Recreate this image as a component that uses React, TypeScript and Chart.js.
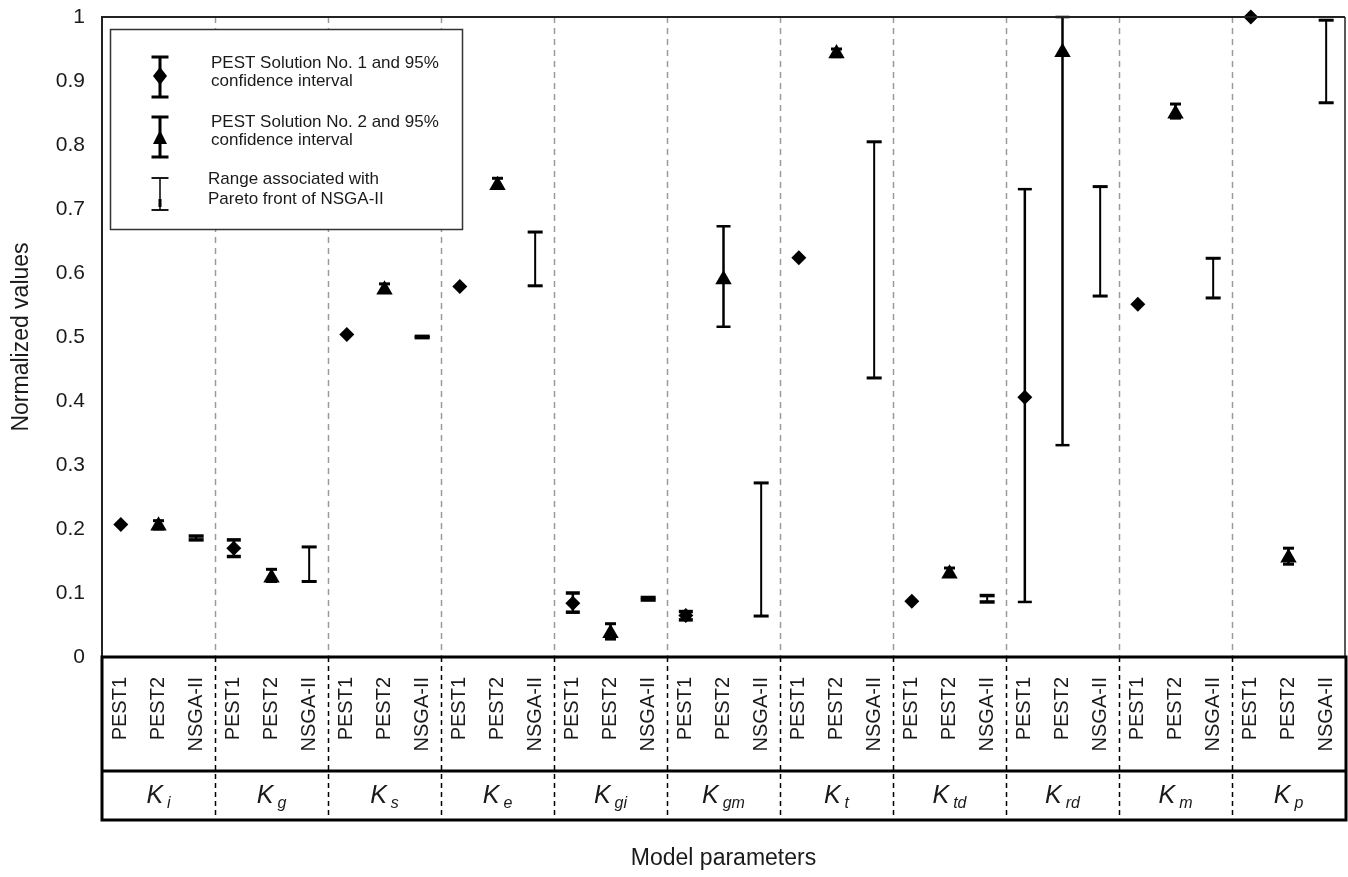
import React, { useEffect, useRef } from 'react';
import { Chart, registerables } from 'chart.js';

Chart.register(...registerables);

// ---------- data ----------
const groupNames = ['i', 'g', 's', 'e', 'gi', 'gm', 't', 'td', 'rd', 'm', 'p'];
const methodLabels = ['PEST1', 'PEST2', 'NSGA-II'];
const yTickLabels = ['0', '0.1', '0.2', '0.3', '0.4', '0.5', '0.6', '0.7', '0.8', '0.9', '1'];

const pest1Values = [0.207, 0.170, 0.504, 0.579, 0.084, 0.065, 0.624, 0.087, 0.406, 0.551, 1.0];
const pest1Low = [null, 0.157, null, null, 0.070, 0.058, null, null, 0.086, null, null];
const pest1High = [null, 0.183, null, null, 0.100, 0.071, null, null, 0.731, null, null];

const pest2Values = [0.205, 0.124, 0.574, 0.737, 0.037, 0.590, 0.943, 0.130, 0.945, 0.849, 0.155];
const pest2Low = [0.200, 0.118, 0.570, 0.733, 0.028, 0.516, 0.938, 0.126, 0.331, 0.842, 0.145];
const pest2High = [0.213, 0.137, 0.583, 0.748, 0.052, 0.673, 0.950, 0.139, 1.0, 0.864, 0.170];

const nsgaLow = [0.183, 0.118, 0.499, 0.580, 0.089, 0.064, 0.436, 0.086, 0.564, 0.561, 0.866];
const nsgaHigh = [0.189, 0.172, 0.501, 0.664, 0.093, 0.272, 0.805, 0.096, 0.735, 0.623, 0.995];

const legendTexts = [
  ['PEST Solution No. 1 and 95%', 'confidence interval'],
  ['PEST Solution No. 2 and 95%', 'confidence interval'],
  ['Range associated with', 'Pareto front of NSGA-II'],
];

// ---------- helpers ----------
const FONT = "'Liberation Sans', Arial, sans-serif";
const TEXT = '#1a1a1a';
const nCat = groupNames.length * methodLabels.length;
const xLabels = groupNames.flatMap(() => methodLabels);

const spread = (vals: (number | null)[], slot: number) => {
  const arr: (number | null)[] = new Array(nCat).fill(null);
  vals.forEach((v, g) => { arr[g * 3 + slot] = v; });
  return arr;
};

const errorBarPlugin = {
  id: 'errorBars',
  beforeDatasetsDraw(chart: any) {
    const { ctx, chartArea } = chart;
    const xs = chart.scales.x;
    const ys = chart.scales.y;
    ctx.save();
    // gray dashed group dividers inside plot area
    ctx.strokeStyle = '#9a9a9a';
    ctx.lineWidth = 1.5;
    ctx.setLineDash([6, 5]);
    for (let g = 1; g < groupNames.length; g++) {
      const x = Math.round((xs.getPixelForValue(g * 3 - 1) + xs.getPixelForValue(g * 3)) / 2) + 0.5;
      ctx.beginPath();
      ctx.moveTo(x, chartArea.top);
      ctx.lineTo(x, chartArea.bottom);
      ctx.stroke();
    }
    ctx.setLineDash([]);
    // error bars / ranges
    chart.data.datasets.forEach((ds: any) => {
      if (!ds.errLow) return;
      ds.errLow.forEach((lo: number | null, i: number) => {
        const hi = ds.errHigh[i];
        if (lo == null || hi == null) return;
        const x = xs.getPixelForValue(i);
        const yLo = ys.getPixelForValue(lo);
        const yHi = ys.getPixelForValue(hi);
        const big = Math.abs(yLo - yHi) > 30;
        ctx.fillStyle = '#000';
        ctx.strokeStyle = '#000';
        ctx.lineWidth = ds.errLineWidth;
        ctx.beginPath();
        ctx.moveTo(x, yLo);
        ctx.lineTo(x, yHi);
        ctx.stroke();
        const cw = big ? ds.errCapWidthBig : ds.errCapWidth;
        const ct = big ? ds.errCapThickBig : ds.errCapThick;
        ctx.fillRect(x - cw / 2, yLo - ct / 2, cw, ct);
        ctx.fillRect(x - cw / 2, yHi - ct / 2, cw, ct);
      });
    });
    ctx.restore();
  },
  afterDraw(chart: any) {
    const { ctx, chartArea } = chart;
    const xs = chart.scales.x;
    const { left, right, top, bottom } = chartArea;
    const tableBottom = 820;
    const rowSep = 771;
    ctx.save();
    // plot frame
    ctx.strokeStyle = '#222';
    ctx.lineWidth = 2;
    ctx.beginPath();
    ctx.moveTo(left, bottom);
    ctx.lineTo(left, top);
    ctx.lineTo(right, top);
    ctx.stroke();
    ctx.lineWidth = 1.5;
    ctx.beginPath();
    ctx.moveTo(right, top);
    ctx.lineTo(right, bottom);
    ctx.stroke();

    // table dividers (black dashed)
    ctx.strokeStyle = '#000';
    ctx.lineWidth = 1.5;
    ctx.setLineDash([5, 4]);
    for (let g = 1; g < groupNames.length; g++) {
      const x = Math.round((xs.getPixelForValue(g * 3 - 1) + xs.getPixelForValue(g * 3)) / 2) + 0.5;
      ctx.beginPath();
      ctx.moveTo(x, bottom);
      ctx.lineTo(x, tableBottom);
      ctx.stroke();
    }
    ctx.setLineDash([]);
    // table frame
    ctx.lineWidth = 3;
    ctx.strokeStyle = '#000';
    ctx.strokeRect(left, bottom, right - left + 1, tableBottom - bottom);
    ctx.beginPath();
    ctx.moveTo(left, rowSep);
    ctx.lineTo(right + 1, rowSep);
    ctx.stroke();

    // group labels K_sub
    ctx.fillStyle = TEXT;
    ctx.textBaseline = 'alphabetic';
    ctx.textAlign = 'left';
    groupNames.forEach((sub, g) => {
      const cx = xs.getPixelForValue(g * 3 + 1);
      ctx.font = `italic 25px ${FONT}`;
      const wK = ctx.measureText('K').width;
      ctx.font = `italic 16px ${FONT}`;
      const wS = ctx.measureText(sub).width;
      const gap = 4;
      const total = wK + gap + wS;
      const x0 = cx - total / 2;
      ctx.font = `italic 25px ${FONT}`;
      ctx.fillText('K', x0, 803);
      ctx.font = `italic 16px ${FONT}`;
      ctx.fillText(sub, x0 + wK + gap, 808);
    });

    // legend
    const lx = 110, ly = 29, lw = 352, lh = 200;
    ctx.fillStyle = '#fff';
    ctx.fillRect(lx, ly, lw, lh);
    ctx.strokeStyle = '#333';
    ctx.lineWidth = 1.5;
    ctx.strokeRect(lx + 0.5, ly + 0.5, lw, lh);
    ctx.fillStyle = '#000';
    ctx.strokeStyle = '#000';
    const ix = 160;
    const drawCI = (y1: number, y2: number, lwid: number, capT: number) => {
      ctx.lineWidth = lwid;
      ctx.beginPath();
      ctx.moveTo(ix, y1);
      ctx.lineTo(ix, y2);
      ctx.stroke();
      ctx.fillRect(ix - 8.5, y1 - capT / 2, 17, capT);
      ctx.fillRect(ix - 8.5, y2 - capT / 2, 17, capT);
    };
    drawCI(57, 97, 3, 3);
    ctx.beginPath();
    ctx.moveTo(ix, 76 - 9); ctx.lineTo(ix + 7, 76); ctx.lineTo(ix, 76 + 9); ctx.lineTo(ix - 7, 76); ctx.closePath();
    ctx.fill();
    drawCI(117, 157, 3, 3);
    ctx.beginPath();
    ctx.moveTo(ix, 130); ctx.lineTo(ix + 7, 144); ctx.lineTo(ix - 7, 144); ctx.closePath();
    ctx.fill();
    drawCI(178, 210, 1.5, 1.8);
    ctx.fillRect(ix - 1.5, 199, 3, 8);

    ctx.fillStyle = TEXT;
    ctx.font = `17px ${FONT}`;
    ctx.textBaseline = 'middle';
    ctx.textAlign = 'left';
    const textPos = [[211, 63, 81], [211, 122, 140], [208, 179, 199]];
    legendTexts.forEach((lines, k) => {
      const [tx, y1, y2] = textPos[k];
      ctx.fillText(lines[0], tx, y1);
      ctx.fillText(lines[1], tx, y2);
    });
    ctx.restore();
  },
};

export default function App() {
  const canvasRef = useRef<HTMLCanvasElement | null>(null);

  useEffect(() => {
    const canvas = canvasRef.current;
    if (!canvas) return;
    const chart = new Chart(canvas, {
      type: 'line',
      data: {
        labels: xLabels,
        datasets: [
          {
            label: 'PEST Solution No. 1',
            data: spread(pest1Values, 0),
            showLine: false,
            pointStyle: 'rectRot',
            pointRadius: 7.5,
            pointBackgroundColor: '#000',
            pointBorderColor: '#000',
            pointBorderWidth: 0,
            clip: false,
            errLow: spread(pest1Low, 0),
            errHigh: spread(pest1High, 0),
            errLineWidth: 2.5,
            errCapWidth: 14,
            errCapThick: 3.5,
            errCapWidthBig: 14,
            errCapThickBig: 2.5,
          } as any,
          {
            label: 'PEST Solution No. 2',
            data: spread(pest2Values, 1),
            showLine: false,
            pointStyle: 'triangle',
            pointRadius: 9.5,
            pointBackgroundColor: '#000',
            pointBorderColor: '#000',
            pointBorderWidth: 0,
            clip: false,
            errLow: spread(pest2Low, 1),
            errHigh: spread(pest2High, 1),
            errLineWidth: 2.5,
            errCapWidth: 11,
            errCapThick: 3,
            errCapWidthBig: 14,
            errCapThickBig: 2.5,
          } as any,
          {
            label: 'NSGA-II range',
            data: spread(nsgaHigh, 2),
            showLine: false,
            pointRadius: 0,
            clip: false,
            errLow: spread(nsgaLow, 2),
            errHigh: spread(nsgaHigh, 2),
            errLineWidth: 2,
            errCapWidth: 15,
            errCapThick: 3.5,
            errCapWidthBig: 15,
            errCapThickBig: 3,
          } as any,
        ],
      },
      options: {
        responsive: false,
        devicePixelRatio: 1,
        animation: false,
        layout: { autoPadding: false, padding: { top: 17, right: 3, left: 0, bottom: 0 } },
        plugins: {
          legend: { display: false },
          tooltip: { enabled: false },
        },
        scales: {
          x: {
            type: 'category',
            offset: true,
            grid: { display: false, drawTicks: false },
            border: { display: false },
            ticks: {
              autoSkip: false,
              minRotation: 90,
              maxRotation: 90,
              padding: 20,
              color: TEXT,
              font: { family: FONT, size: 20 },
            },
            title: {
              display: true,
              text: 'Model parameters',
              color: TEXT,
              font: { family: FONT, size: 23, lineHeight: 1.2 },
              padding: { top: 0, bottom: 5 },
            },
            afterFit: (scale: any) => {
              scale.height = 220;
              scale.paddingLeft = 0;
              scale.paddingRight = 0;
            },
          },
          y: {
            min: 0,
            max: 1,
            grid: { display: false, drawTicks: false },
            border: { display: false },
            ticks: {
              stepSize: 0.1,
              padding: 17,
              color: TEXT,
              font: { family: FONT, size: 21 },
              callback: (_v: any, i: number) => yTickLabels[i],
            },
            title: {
              display: true,
              text: 'Normalized values',
              color: TEXT,
              font: { family: FONT, size: 23, lineHeight: 1.2 },
              padding: { top: 8, bottom: 0 },
            },
            afterFit: (scale: any) => {
              scale.width = 102;
              scale.paddingTop = 0;
              scale.paddingBottom = 0;
            },
          },
        },
      } as any,
      plugins: [errorBarPlugin],
    });
    return () => chart.destroy();
  }, []);

  return (
    <div style={{ position: 'absolute', left: 0, top: 0, width: 1348, height: 877, background: '#fff' }}>
      <canvas ref={canvasRef} width={1348} height={877} style={{ display: 'block' }} />
    </div>
  );
}
